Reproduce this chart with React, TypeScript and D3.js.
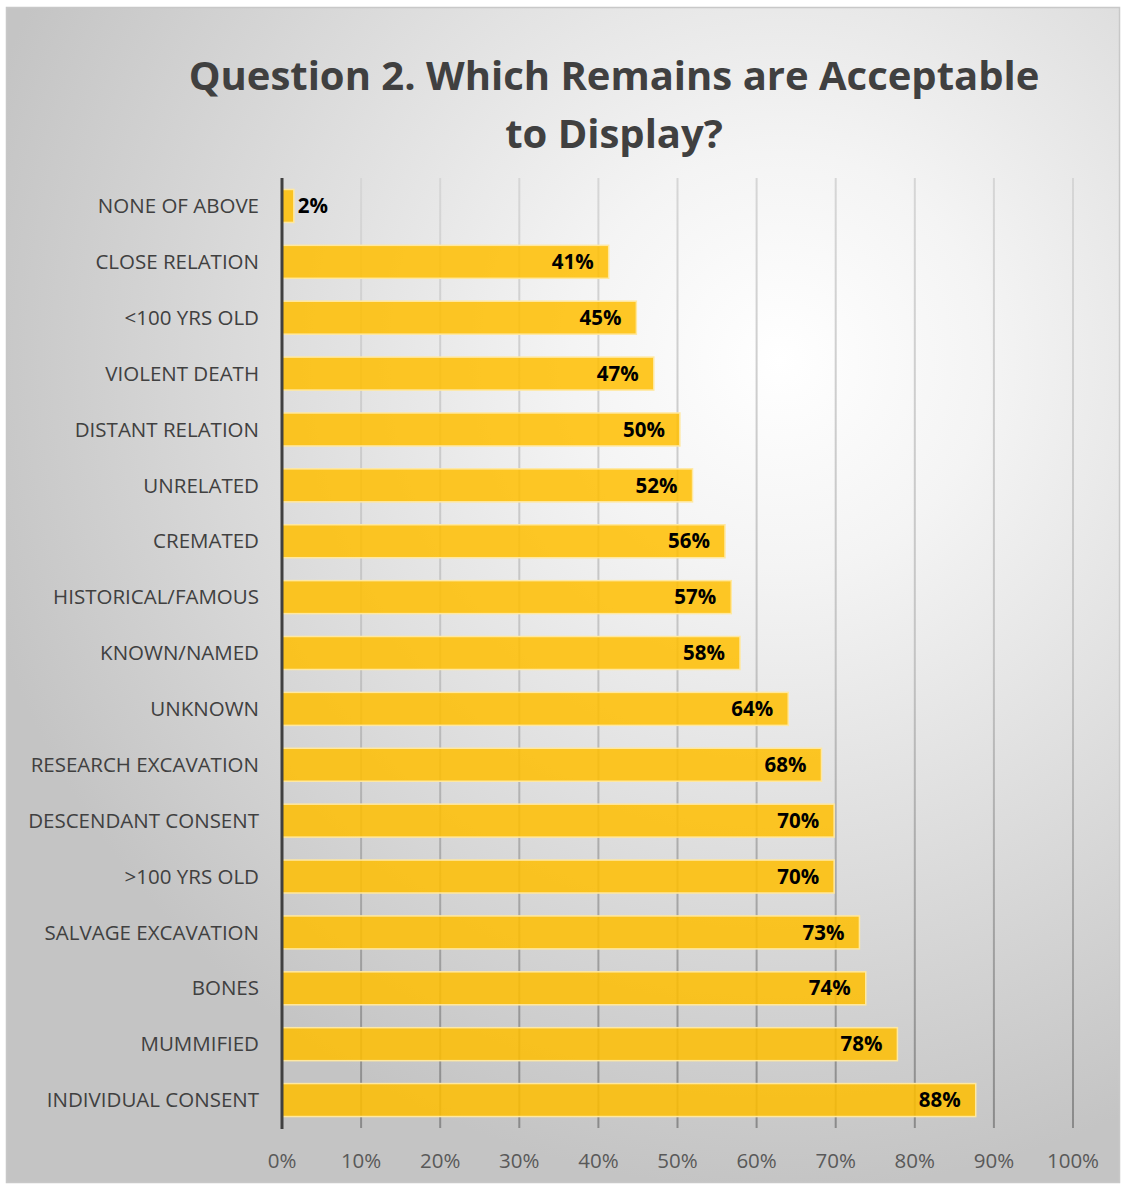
import React from "react";
import * as d3 from "d3";

const categories = [
  "NONE OF ABOVE",
  "CLOSE RELATION",
  "<100 YRS OLD",
  "VIOLENT DEATH",
  "DISTANT RELATION",
  "UNRELATED",
  "CREMATED",
  "HISTORICAL/FAMOUS",
  "KNOWN/NAMED",
  "UNKNOWN",
  "RESEARCH EXCAVATION",
  "DESCENDANT CONSENT",
  ">100 YRS OLD",
  "SALVAGE EXCAVATION",
  "BONES",
  "MUMMIFIED",
  "INDIVIDUAL CONSENT",
];
const values = [0.015, 0.413, 0.448, 0.47, 0.503, 0.519, 0.56, 0.568, 0.579, 0.64, 0.682, 0.698, 0.698, 0.73, 0.738, 0.778, 0.877];
const valueLabels = ["2%", "41%", "45%", "47%", "50%", "52%", "56%", "57%", "58%", "64%", "68%", "70%", "70%", "73%", "74%", "78%", "88%"];
const ticks = [0, 0.1, 0.2, 0.3, 0.4, 0.5, 0.6, 0.7, 0.8, 0.9, 1.0];
const titleLines = ["Question 2. Which Remains are Acceptable", "to Display?"];

const W = 1121;
const H = 1185;
const FONT = "'Open Sans', 'Noto Sans', sans-serif";

export default function App() {
  const x = d3.scaleLinear().domain([0, 1]).range([282, 1073]);
  const y = d3.scaleBand<string>().domain(categories).range([178, 1128]).paddingInner(0.41).paddingOuter(0.205);
  const fmt = d3.format(".0%");
  return (
    <svg width={W} height={H} style={{ position: "absolute", left: 0, top: 0 }}>
      <defs>
        <radialGradient id="bg" cx="780" cy="360" r="830" gradientUnits="userSpaceOnUse">
          <stop offset="0" stopColor="#ffffff" />
          <stop offset="0.25" stopColor="#f4f4f4" />
          <stop offset="1" stopColor="#c4c4c4" />
        </radialGradient>
        <linearGradient id="grid" x1="0" y1="178" x2="0" y2="1128" gradientUnits="userSpaceOnUse">
          <stop offset="0" stopColor="#d6d6d6" />
          <stop offset="0.5" stopColor="#c4c4c4" />
          <stop offset="1" stopColor="#8a8a8a" />
        </linearGradient>
      </defs>
      <rect x={6.5} y={7.5} width={1113} height={1175} fill="url(#bg)" stroke="#c8c8c8" strokeWidth={1.5} />
      {titleLines.map((t, i) => (
        <text key={i} x={614} y={90 + i * 58} textAnchor="middle" fontFamily={FONT} fontWeight={700} fontSize={40} fill="#404040">
          {t}
        </text>
      ))}
      {ticks.slice(1).map((t) => (
        <rect key={t} x={x(t) - 1} width={2} y={178} height={950} fill="url(#grid)" />
      ))}
      {categories.map((c, i) => {
        const yy = y(c)!;
        const bw = x(values[i]) - x(0);
        const inside = bw > 60;
        return (
          <g key={c}>
            <rect x={x(0)} y={yy} width={bw} height={y.bandwidth()} fill="#FFBE00" fillOpacity={0.85} stroke="#FFE8A0" strokeWidth={1.5} />
            <text x={inside ? x(values[i]) - 15 : x(values[i]) + 4} y={yy + y.bandwidth() / 2} dy="0.35em" textAnchor={inside ? "end" : "start"} fontFamily={FONT} fontWeight={700} fontSize={20.5} fill="#000">
              {valueLabels[i]}
            </text>
            <text x={259} y={yy + y.bandwidth() / 2} dy="0.35em" textAnchor="end" fontFamily={FONT} fontSize={20.5} fill="#404040">
              {c}
            </text>
          </g>
        );
      })}
      <line x1={x(0)} x2={x(0)} y1={178} y2={1129} stroke="#404040" strokeWidth={3} />
      {ticks.map((t) => (
        <text key={t} x={x(t)} y={1168} textAnchor="middle" fontFamily={FONT} fontSize={20.5} fill="#595959">
          {fmt(t)}
        </text>
      ))}
    </svg>
  );
}
